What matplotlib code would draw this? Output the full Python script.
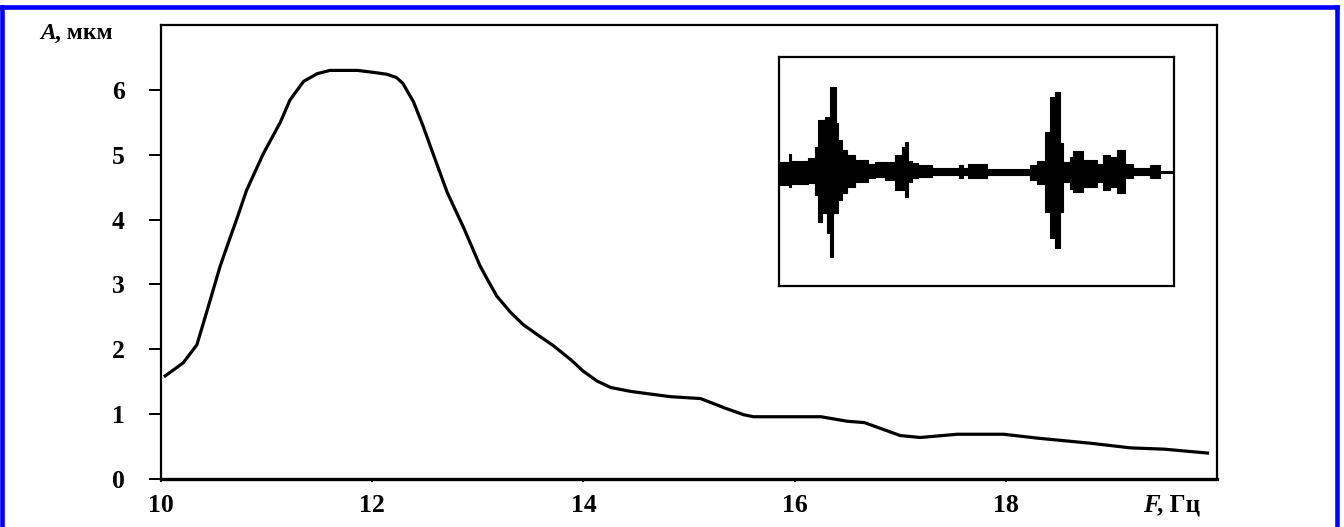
import matplotlib
matplotlib.use("Agg")
import matplotlib.pyplot as plt
from matplotlib.lines import Line2D

# ---- main curve data: frequency F (Hz) vs amplitude A (um) ----
freq = [10.04, 10.21, 10.34, 10.43, 10.56, 10.65, 10.72, 10.81, 10.97, 11.13,
        11.22, 11.35, 11.48, 11.60, 11.86, 12.01, 12.14, 12.23, 12.29, 12.39,
        12.48, 12.58, 12.71, 12.87, 13.02, 13.09, 13.18, 13.31, 13.43, 13.56,
        13.72, 13.88, 14.00, 14.13, 14.26, 14.45, 14.82, 15.11, 15.33, 15.52,
        15.61, 16.25, 16.50, 16.66, 17.00, 17.19, 17.54, 17.98, 18.30, 18.81,
        19.18, 19.50, 19.91]
amp = [1.59, 1.79, 2.07, 2.56, 3.28, 3.70, 4.02, 4.45, 5.02, 5.50,
       5.84, 6.13, 6.25, 6.30, 6.30, 6.27, 6.24, 6.19, 6.10, 5.82,
       5.45, 5.00, 4.42, 3.86, 3.29, 3.08, 2.82, 2.57, 2.38, 2.23,
       2.05, 1.84, 1.66, 1.51, 1.41, 1.35, 1.27, 1.24, 1.10, 0.99,
       0.96, 0.96, 0.89, 0.87, 0.67, 0.64, 0.69, 0.69, 0.63, 0.55,
       0.48, 0.46, 0.40]

x_ticks = [10, 12, 14, 16, 18]
y_ticks = [0, 1, 2, 3, 4, 5, 6]

# ---- inset waveform envelope (arbitrary units), step-wise ----
wave_t = [0, 10, 12, 29, 36, 39, 43, 46, 48, 51, 54, 57, 59, 63, 68, 76, 89, 96,
          106, 116, 123, 126, 129, 133, 139, 153, 180, 184, 189, 208, 251, 258,
          266, 271, 276, 281, 284, 291, 294, 304, 318, 324, 331, 338, 346, 354,
          371, 381, 393]
wave_top = [10, 18, 11, 14, 25, 52, 52, 55, 55, 85, 85, 49, 32, 22, 17, 12, 8, 10,
            10, 17, 25, 30, 11, 9, 7, 4, 7, 4, 8, 3, 7, 11,
            40, 75, 80, 29, 10, 15, 21, 12, 8, 17, 15, 22, 8, 4,
            7, 1, 1]
wave_bot = [-13, -15, -12, -11, -23, -50, -41, -41, -61, -85, -41, -41, -28, -21, -15, -10, -6, -5,
            -8, -18, -18, -25, -10, -6, -5, -3, -6, -3, -6, -3, -8, -12,
            -40, -66, -76, -40, -10, -17, -20, -15, -10, -18, -15, -21, -6, -3,
            -6, -1, -1]

W, H = 1344, 527
fig = plt.figure(figsize=(W / 100, H / 100), dpi=100)
fig.patch.set_facecolor("white")

serif = ["Liberation Serif", "DejaVu Serif"]

ax = fig.add_axes([161 / W, 1 - 479 / H, 1056 / W, 454 / H])
ax.plot(freq, amp, color="black", lw=2.3, solid_joinstyle="round")
ax.set_xlim(10, 20)
ax.set_ylim(0, 7)
ax.set_xticks(x_ticks)
ax.set_yticks(y_ticks)
for s in ["left", "top", "right"]:
    ax.spines[s].set_linewidth(1.6)
ax.spines["bottom"].set_linewidth(2.4)
ax.tick_params(axis="y", direction="out", length=9, width=1.4, pad=17)
ax.tick_params(axis="x", direction="out", length=2.5, width=1.4, pad=8)
for lab in ax.get_xticklabels() + ax.get_yticklabels():
    lab.set_fontfamily(serif)
    lab.set_fontweight("bold")
    lab.set_fontsize(18.5)

# axis labels as text
fig.text(40 / W, 1 - 39 / H, "A", family=serif, style="italic", weight="bold",
         fontsize=17, ha="left", va="baseline")
fig.text(55 / W, 1 - 39 / H, ", мкм", family=serif, weight="bold",
         fontsize=17, ha="left", va="baseline")
fig.text(1143 / W, 1 - 512 / H, "F", family=serif, style="italic", weight="bold",
         fontsize=18, ha="left", va="baseline")
fig.text(1157 / W, 1 - 512 / H, ", Гц", family=serif, weight="bold",
         fontsize=18, ha="left", va="baseline")

# inset
axi = fig.add_axes([779 / W, 1 - 286 / H, 395 / W, 229 / H])
axi.fill_between(wave_t, wave_top, wave_bot, step="post", color="black", lw=0.8,
                 edgecolor="black")
axi.plot([wave_t[0], wave_t[-1] + 2], [0, 0], color="black", lw=1.2)
axi.set_xlim(0, 395)
axi.set_ylim(-114, 115)
axi.set_xticks([])
axi.set_yticks([])
for s in axi.spines.values():
    s.set_linewidth(1.6)

# blue frame
bw = 3.3
fig.add_artist(Line2D([2 / W, 2 / W], [0, 1 - 7 / H], transform=fig.transFigure,
                      color="#0000ff", lw=bw, solid_capstyle="projecting"))
fig.add_artist(Line2D([2 / W, 1336.5 / W], [1 - 7 / H, 1 - 7 / H], transform=fig.transFigure,
                      color="#0000ff", lw=bw, solid_capstyle="projecting"))
fig.add_artist(Line2D([1336.5 / W, 1336.5 / W], [0, 1 - 7 / H], transform=fig.transFigure,
                      color="#0000ff", lw=bw, solid_capstyle="projecting"))

fig.savefig("out.png", dpi=100, facecolor="white")
